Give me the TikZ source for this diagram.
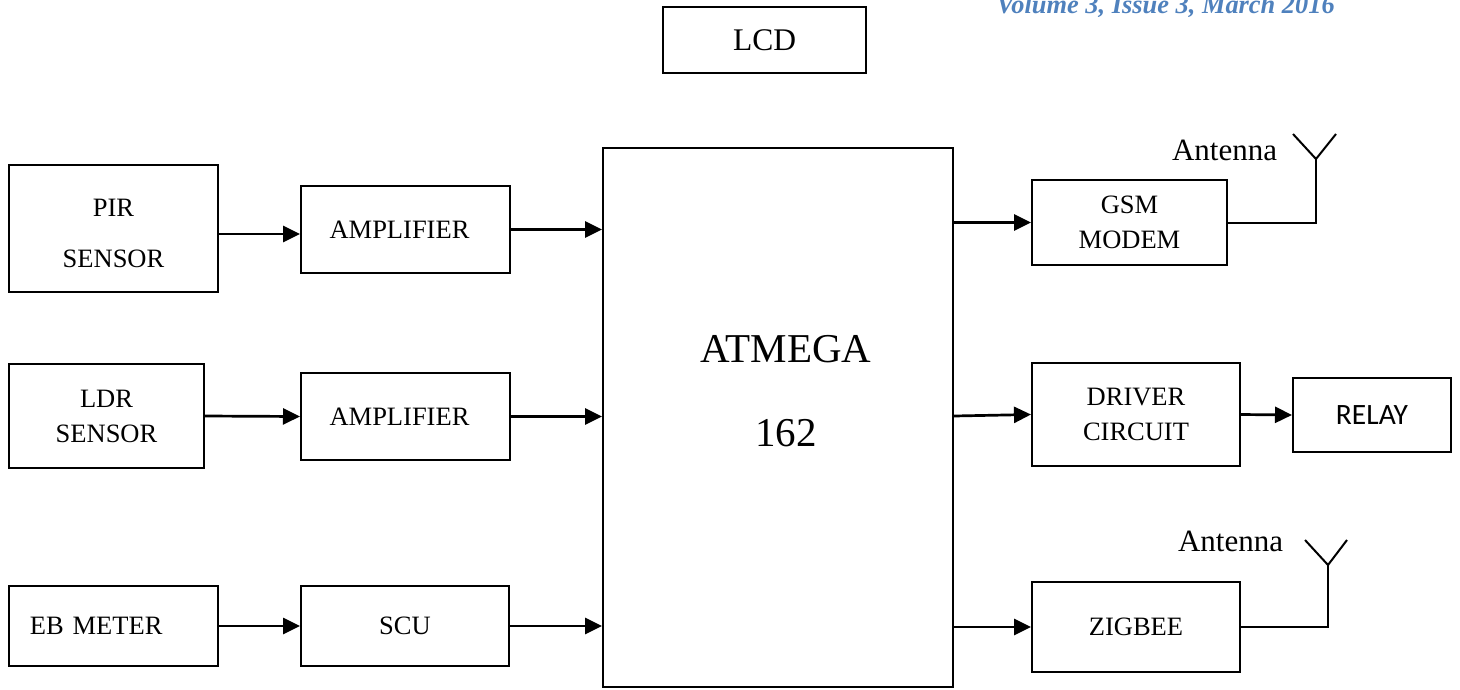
\documentclass[tikz,border=0pt]{standalone}
\usepackage{fontspec}
\setmainfont{Liberation Serif}
\newfontfamily\relayfont{Carlito}
\usepackage{xcolor}
\usepackage{tikz}
\usetikzlibrary{arrows.meta, positioning, calc}
\definecolor{headerblue}{HTML}{4F81BD}

\begin{document}
\begin{tikzpicture}[
    x=1pt, y=-1pt,
    block/.style={
        draw=black, line width=2pt, inner sep=0pt,
        font=\fontsize{26.5}{35}\selectfont, align=center
    },
    arrow/.style={-{Triangle[length=17pt, width=16pt]}, line width=2.7pt},
    wire/.style={line width=2pt},
    antlabel/.style={font=\fontsize{31}{31}\selectfont, anchor=base, inner sep=0pt}
]

\useasboundingbox (0,0) rectangle (1460,689);

% Journal header (cut by the page edge)
\begin{scope}
\clip (0,0) rectangle (1460,689);
\node[font=\fontsize{26.4}{27}\selectfont\bfseries\itshape, text=headerblue,
      anchor=base east, inner sep=0pt] (header) at (1335,13) {Volume 3, Issue 3, March 2016};
\end{scope}

% Display
\node[block, minimum width=203pt, minimum height=66pt, font=\fontsize{31.5}{32}\selectfont] (lcd) at (764.5,40) {LCD};

% Inputs
\node[block, minimum width=209pt, minimum height=127pt] (pir) at (113.5,228.5) {\rule{0pt}{28pt}PIR\\[16pt]SENSOR};
\node[block, minimum width=195pt, minimum height=104pt] (ldr) at (106.5,416) {LDR\\SENSOR};
\node[block, minimum width=209pt, minimum height=80pt, text width=167pt, align=left] (eb) at (113.5,626) {EB METER};

% Signal conditioning
\node[block, minimum width=209pt, minimum height=87pt] (amp1) at (405.5,229.5) {AMPLIFIER\hspace*{12pt}};
\node[block, minimum width=209pt, minimum height=87pt] (amp2) at (405.5,416.5) {AMPLIFIER\hspace*{12pt}};
\node[block, minimum width=208pt, minimum height=80pt] (scu) at (405,626) {SCU};

% Controller
\node[block, minimum width=350pt, minimum height=539pt] (atmega) at (778,417.5) {};
\node[font=\fontsize{41}{84}\selectfont, align=center, inner sep=0pt] (atmega text) at (786,391.5) {ATMEGA\\162};

% Outputs
\node[block, minimum width=195pt, minimum height=85pt] (gsm) at (1129.5,222.5) {GSM\\MODEM};
\node[block, minimum width=208pt, minimum height=103pt] (driver) at (1136,414.5) {DRIVER\\CIRCUIT};
\node[block, minimum width=158pt, minimum height=74pt, font=\relayfont\fontsize{29.5}{30}\selectfont] (relay) at (1372,415) {RELAY};
\node[block, minimum width=208pt, minimum height=90pt] (zigbee) at (1136,627) {ZIGBEE};

% Arrows: inputs to controller
\draw[arrow] ([yshift=-5.5pt]pir.east) -- ([yshift=-4.5pt]amp1.west);
\draw[arrow] (amp1.east) -- (amp1.east -| atmega.west);
\draw[arrow] (ldr.east) -- (amp2.west);
\draw[arrow] (amp2.east) -- (amp2.east -| atmega.west);
\draw[arrow] (eb.east) -- (scu.west);
\draw[arrow] (scu.east) -- (scu.east -| atmega.west);

% Arrows: controller to outputs
\draw[arrow] (gsm.west -| atmega.east) -- (gsm.west);
\draw[arrow] ([yshift=-1.5pt]driver.west -| atmega.east) -- (driver.west);
\draw[arrow] (driver.east) -- (relay.west);
\draw[arrow] (zigbee.west -| atmega.east) -- (zigbee.west);

% Antennas
\coordinate (gsmant) at (1316,159);
\draw[wire] (gsm.east) -- (gsm.east -| gsmant) -- (gsmant);
\draw[wire] (gsmant) -- ++(-23,-25) (gsmant) -- ++(20,-25);
\node[antlabel] (gsmant label) at (1224.5,160) {Antenna};

\coordinate (zbant) at (1328,565);
\draw[wire] (zigbee.east) -- (zigbee.east -| zbant) -- (zbant);
\draw[wire] (zbant) -- ++(-23,-25) (zbant) -- ++(19,-25);
\node[antlabel] (zbant label) at (1230.5,551) {Antenna};

\end{tikzpicture}
\end{document}
